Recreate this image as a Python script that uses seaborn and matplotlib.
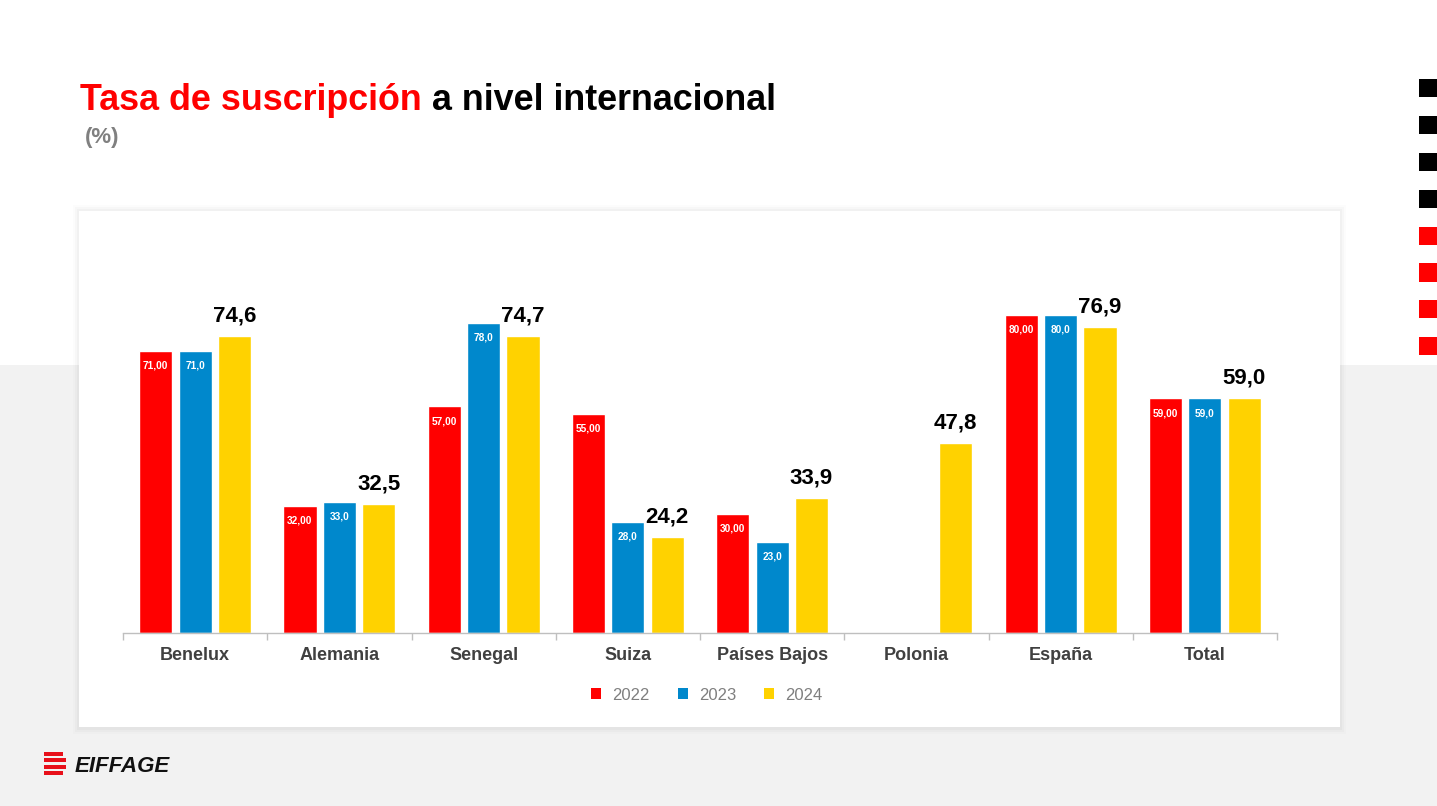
import matplotlib
matplotlib.use("Agg")
import matplotlib.pyplot as plt
import matplotlib.patches as mpatches
import numpy as np
import pandas as pd
import seaborn as sns

categories = ["Benelux", "Alemania", "Senegal", "Suiza", "Países Bajos", "Polonia", "España", "Total"]
years = ["2022", "2023", "2024"]
vals_2022 = [71.0, 32.0, 57.0, 55.0, 30.0, np.nan, 80.0, 59.0]
vals_2023 = [71.0, 33.0, 78.0, 28.0, 23.0, np.nan, 80.0, 59.0]
vals_2024 = [74.6, 32.5, 74.7, 24.2, 33.9, 47.8, 76.9, 59.0]
colors = ["#ff0000", "#0088cc", "#ffd200"]

W, H = 1437, 806


def fx(px):
    return px / W


def fy(py):
    return 1 - py / H


sns.set_theme(style="white")
plt.rcParams["font.family"] = ["Liberation Sans", "DejaVu Sans"]

fig = plt.figure(figsize=(W / 100, H / 100), dpi=100)
fig.patch.set_facecolor("white")

# slide background: grey lower band
fig.patches.append(mpatches.Rectangle((0, 0), 1, fy(365), transform=fig.transFigure,
                                      facecolor="#f2f2f2", edgecolor="none", zorder=0))
# card soft shadow and card
for d, a in [(6, 0.012), (4, 0.018), (2, 0.025)]:
    fig.patches.append(mpatches.Rectangle((fx(79 - d), fy(727 + d + 1)), fx(1261 + 2 * d),
                                          fy(211 - d) - fy(727 + d + 1),
                                          transform=fig.transFigure, facecolor="black",
                                          alpha=a, edgecolor="none", zorder=1))
fig.patches.append(mpatches.Rectangle((fx(79), fy(727)), fx(1261), fy(211) - fy(727),
                                      transform=fig.transFigure, facecolor="white",
                                      edgecolor="none", zorder=2))

# right side squares
for i in range(8):
    y = 79 + i * 36.9
    c = "#000000" if i < 4 else "#ff0000"
    fig.patches.append(mpatches.Rectangle((fx(1419), fy(y + 18)), fx(18), fy(y) - fy(y + 18),
                                          transform=fig.transFigure, facecolor=c,
                                          edgecolor="none", zorder=3))

# logo
for i in range(4):
    y = 752 + i * 6.3
    w = 22 - (3 if i in (0, 3) else 0)
    fig.patches.append(mpatches.Rectangle((fx(44), fy(y + 4)), fx(w), fy(y) - fy(y + 4),
                                          transform=fig.transFigure, facecolor="#e8101a",
                                          edgecolor="none", zorder=3))
fig.text(fx(75), fy(767), "EIFFAGE", fontsize=16, fontweight="bold", fontstyle="italic",
         color="#111111", va="center", ha="left")

# title
t1 = fig.text(fx(80), fy(100), "Tasa de suscripción", fontsize=25.8, fontweight="bold",
              color="#ff0000", va="center", ha="left")
fig.canvas.draw()
bb = t1.get_window_extent(fig.canvas.get_renderer())
fig.text(bb.x1 / W, fy(100), " a nivel internacional", fontsize=25.8, fontweight="bold",
         color="#000000", va="center", ha="left")
fig.text(fx(85), fy(137), "(%)", fontsize=16, fontweight="bold", color="#808080",
         va="center", ha="left")

# data frame
df = pd.DataFrame({
    "pais": categories * 3,
    "anio": [years[0]] * 8 + [years[1]] * 8 + [years[2]] * 8,
    "valor": vals_2022 + vals_2023 + vals_2024,
})

ax = fig.add_axes([fx(123), fy(633), fx(1277) - fx(123), fy(251) - fy(633)])
ax.set_zorder(5)
ax.patch.set_alpha(0)
sns.barplot(data=df, x="pais", y="valor", hue="anio", hue_order=years, order=categories,
            palette=colors, width=0.82, gap=0.16, saturation=1, ax=ax, legend=False,
            errorbar=None)

ax.set_ylim(0, 96.1)
ax.set_xlim(-0.5, len(categories) - 0.5)
ax.set_yticks([])
ax.set_xlabel("")
ax.set_ylabel("")
for s in ["top", "right", "left"]:
    ax.spines[s].set_visible(False)
ax.spines["bottom"].set_color("#bfbfbf")
ax.spines["bottom"].set_linewidth(1)
ax.set_xticks(range(len(categories)))
ax.set_xticklabels(categories, fontsize=13, fontweight="bold", color="#404040")
ax.tick_params(axis="x", which="major", length=0, pad=10)
ax.set_xticks(np.arange(-0.5, len(categories)), minor=True)
ax.tick_params(axis="x", which="minor", bottom=True, length=5, color="#bfbfbf", width=1)

series = [vals_2022, vals_2023, vals_2024]
for k, cont in enumerate(ax.containers):
    for bar in cont:
        xc = bar.get_x() + bar.get_width() / 2
        i = int(round(xc))
        v = series[k][i]
        if np.isnan(v):
            continue
        if k < 2:
            fmt = "{:.2f}" if k == 0 else "{:.1f}"
            ax.annotate(fmt.format(v).replace(".", ","), (xc, bar.get_height()), xytext=(0, -10.5),
                        textcoords="offset points", ha="center", va="center",
                        fontsize=7.3, fontweight="bold", color="white")
        else:
            ax.annotate(f"{v:.1f}".replace(".", ","), (xc, bar.get_height()), xytext=(0, 7),
                        textcoords="offset points", ha="center", va="bottom",
                        fontsize=16, fontweight="bold", color="black")

handles = [mpatches.Patch(facecolor=c, edgecolor="none", label=y) for c, y in zip(colors, years)]
leg = fig.legend(handles=handles, loc="center", bbox_to_anchor=(fx(707), fy(695)), ncol=3,
                 frameon=False, fontsize=12, handlelength=0.6, handleheight=0.6,
                 columnspacing=1.7, handletextpad=0.65)
for t in leg.get_texts():
    t.set_color("#7f7f7f")
leg.set_zorder(6)

fig.savefig("out.png", dpi=100, facecolor=fig.get_facecolor())
